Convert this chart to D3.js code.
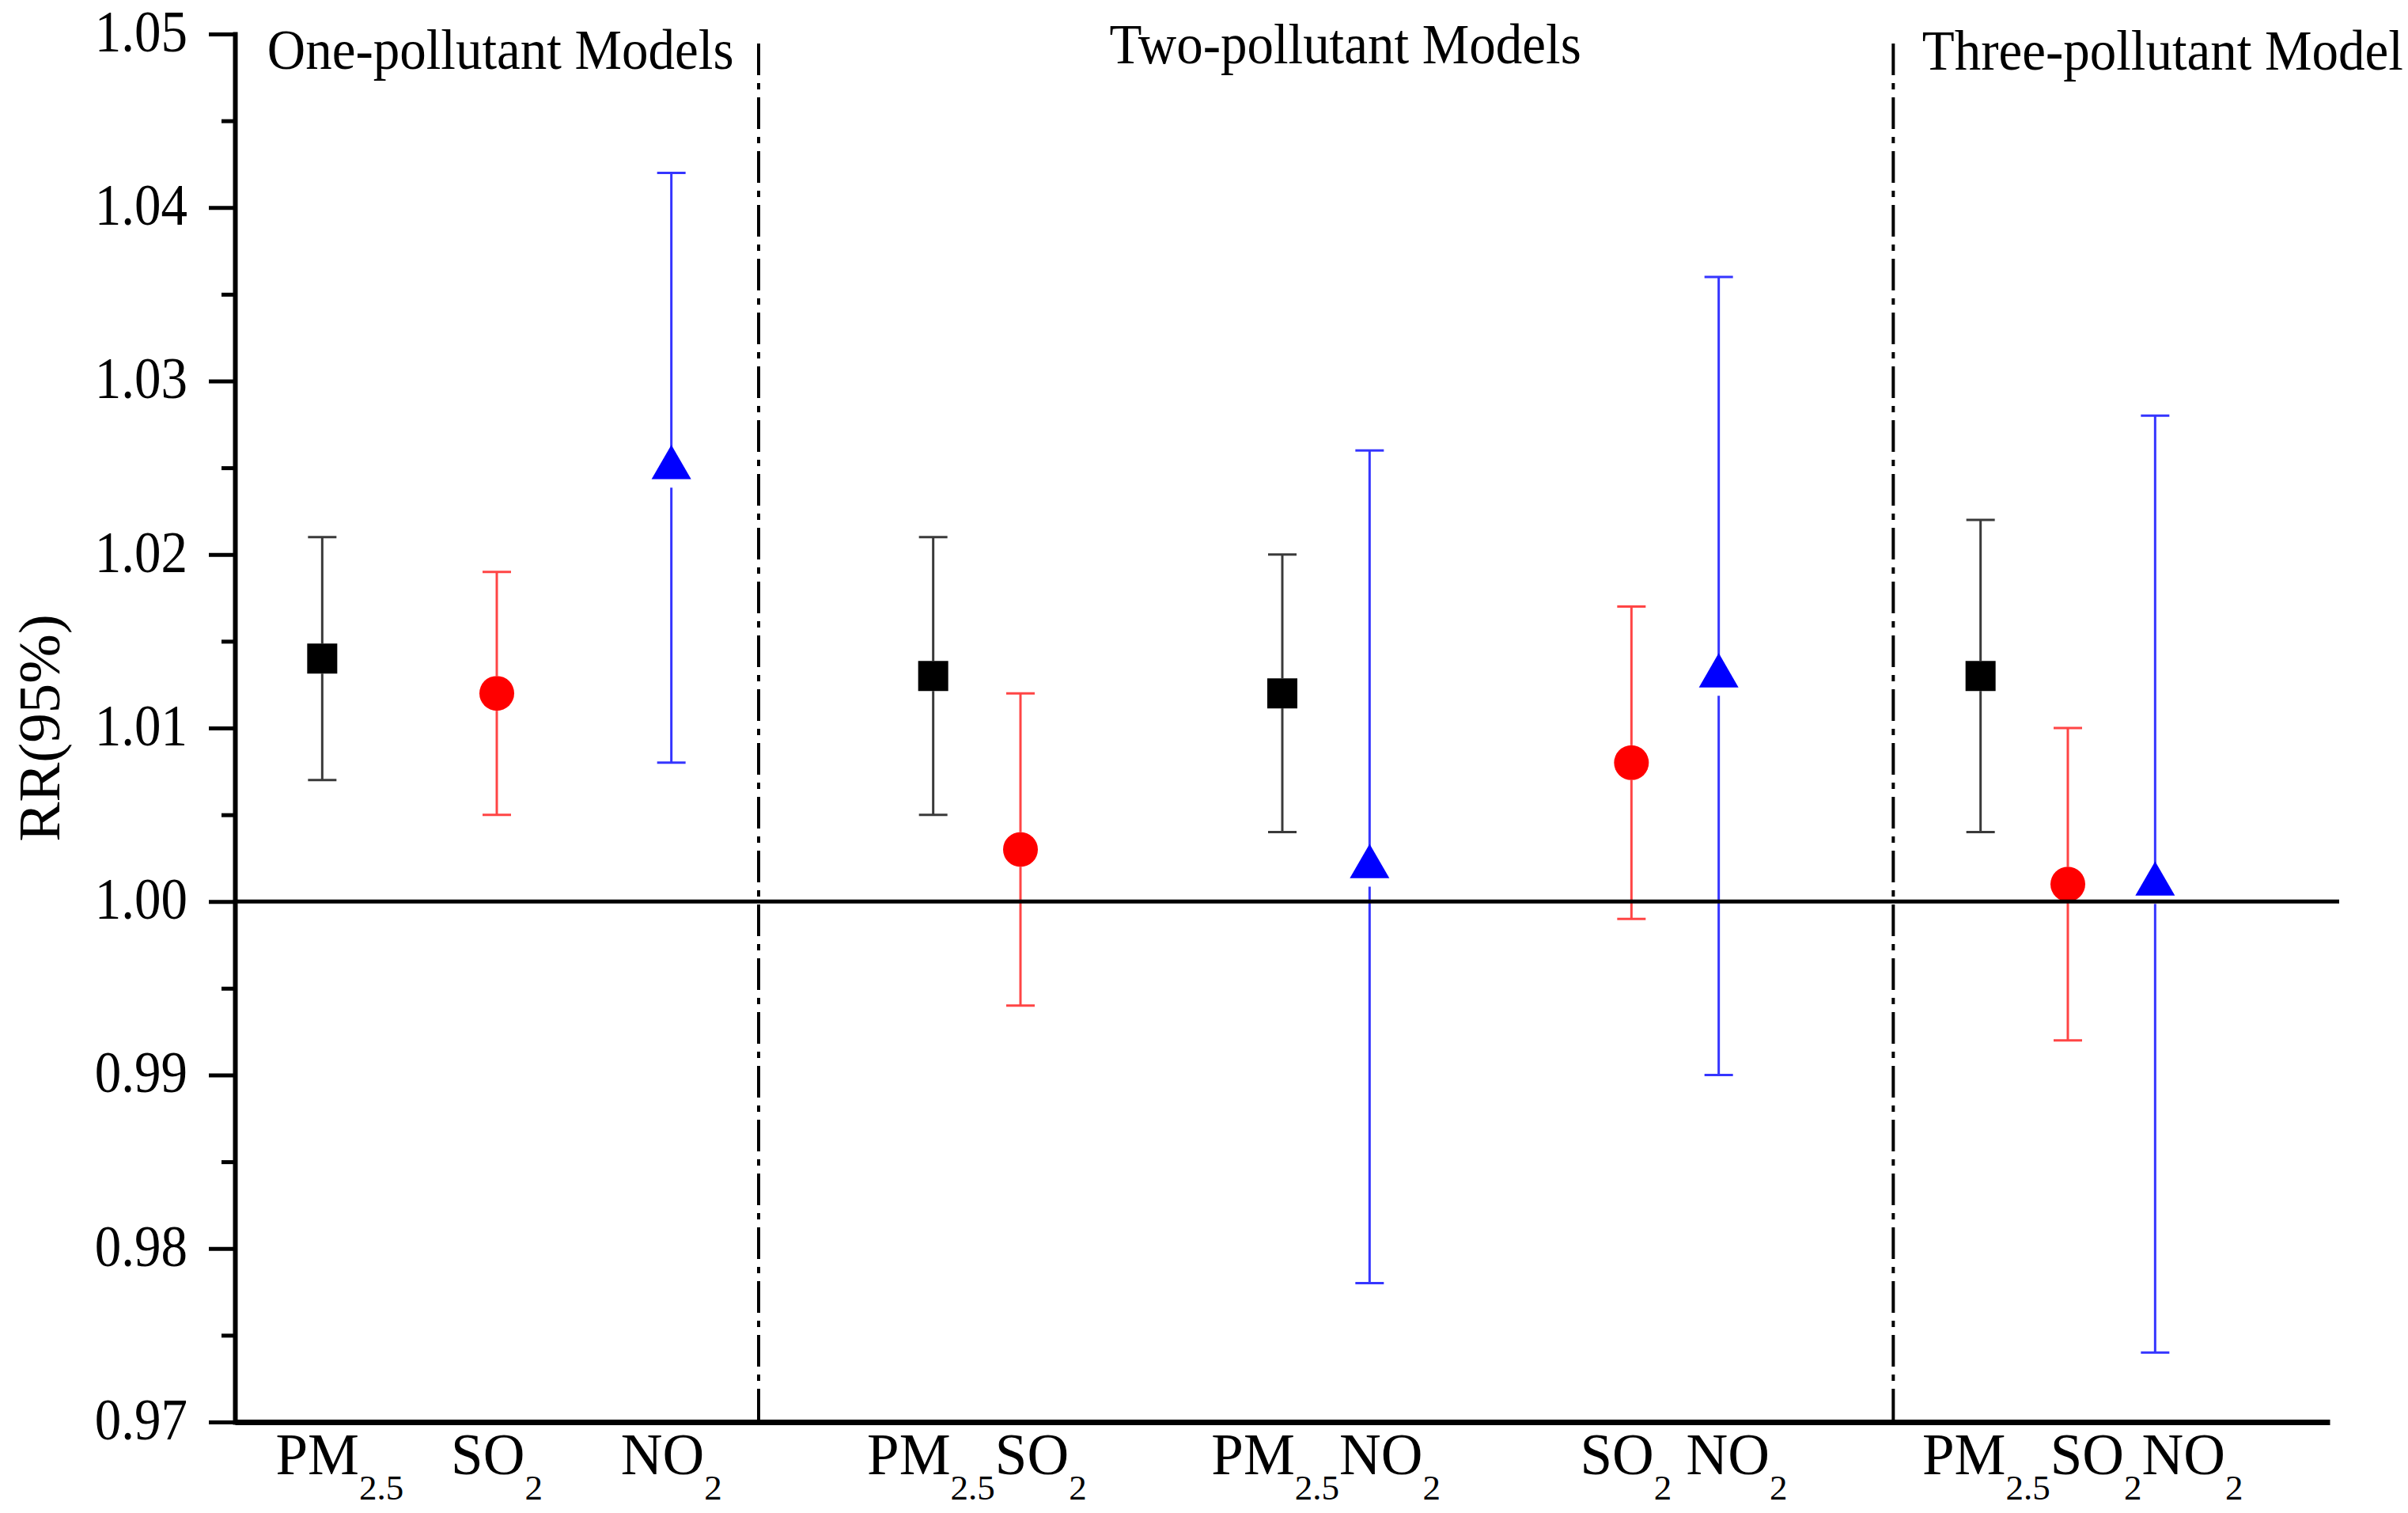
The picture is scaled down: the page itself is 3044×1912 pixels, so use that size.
<!DOCTYPE html>
<html>
<head>
<meta charset="utf-8">
<script src="https://cdn.jsdelivr.net/npm/d3@7"></script>
<style>
  body { margin: 0; background: #fff; }
  text { font-family: "Liberation Serif", "Times New Roman", serif; fill: #000; }
</style>
</head>
<body>
<svg id="chart" width="3044" height="1912"></svg>
<script>
// data (RR with 95% CI)
var xPos      = [1, 3, 5, 8, 9, 12, 13, 16, 17, 20, 21, 22];
var pollutant = ["PM2.5", "SO2", "NO2", "PM2.5", "SO2", "PM2.5", "NO2", "SO2", "NO2", "PM2.5", "SO2", "NO2"];
var rr        = [1.014, 1.012, 1.025, 1.013, 1.003, 1.012, 1.002, 1.008, 1.013, 1.013, 1.001, 1.001];
var lower     = [1.007, 1.005, 1.008, 1.005, 0.994, 1.004, 0.978, 0.999, 0.990, 1.004, 0.992, 0.974];
var upper     = [1.021, 1.019, 1.042, 1.021, 1.012, 1.020, 1.026, 1.017, 1.036, 1.022, 1.010, 1.028];

// category labels: [main text, subscript] pieces
var tickLabels = [
  [["PM", "2.5"]],
  [["SO", "2"]],
  [["NO", "2"]],
  [["PM", "2.5"], ["SO", "2"]],
  [["PM", "2.5"], ["NO", "2"]],
  [["SO", "2"], [" NO", "2"]],
  [["PM", "2.5"], ["SO", "2"], ["NO", "2"]]
];
var labelPos = [1.2, 3, 5, 8.5, 12.5, 16.6, 21.17];

var groupNames = ["One-pollutant Models", "Two-pollutant Models", "Three-pollutant Model"];
var groupX     = [0.37, 10.02, 19.33];
var dividers   = [6, 19];

var yTicks = d3.range(0.97, 1.0501, 0.01);
var yMinor = d3.range(0.975, 1.05, 0.01);

var serif = "'Liberation Serif', 'Times New Roman', serif";

// style per pollutant
var style = {
  "PM2.5": { shape: d3.symbolSquare,   size: 38 * 38, fill: "#000",    bar: "#3a3a3a", half: 19 },
  "SO2":   { shape: d3.symbolCircle,   size: Math.PI * 22 * 22, fill: "#ff0000", bar: "#ff4545", half: 22 },
  "NO2":   { shape: d3.symbolTriangle, size: 1083, fill: "#0000ff", bar: "#3535ff", half: 25 }
};

var svg = d3.select("#chart");
svg.append("rect").attr("width", 3044).attr("height", 1912).attr("fill", "#fff");

var x = d3.scaleLinear().domain([0, 24]).range([297, 2945]);
var y = d3.scaleLinear().domain([0.97, 1.05]).range([1797, 43]);

var points = xPos.map(function(d, i) {
  return { x: d, p: pollutant[i], v: rr[i], lo: lower[i], hi: upper[i] };
});

// dash-dot group dividers
svg.selectAll(".divider")
  .data(dividers)
  .enter().append("line")
  .attr("x1", function(d) { return x(d); })
  .attr("x2", function(d) { return x(d); })
  .attr("y1", y(1.05) + 12)
  .attr("y2", y(0.97))
  .attr("stroke", "#000")
  .attr("stroke-width", 4)
  .attr("stroke-dasharray", "40,10,8,10");

// error bars (gap around marker)
var bars = svg.append("g").selectAll("g")
  .data(points)
  .enter().append("g")
  .attr("stroke", function(d) { return style[d.p].bar; })
  .attr("stroke-width", 3);

bars.append("line")
  .attr("x1", function(d) { return x(d.x); })
  .attr("x2", function(d) { return x(d.x); })
  .attr("y1", function(d) { return y(d.hi); })
  .attr("y2", function(d) { return y(d.v) - style[d.p].half; });

bars.append("line")
  .attr("x1", function(d) { return x(d.x); })
  .attr("x2", function(d) { return x(d.x); })
  .attr("y1", function(d) { return y(d.v) + style[d.p].half; })
  .attr("y2", function(d) { return y(d.lo); });

bars.append("line")
  .attr("x1", function(d) { return x(d.x) - 18; })
  .attr("x2", function(d) { return x(d.x) + 18; })
  .attr("y1", function(d) { return y(d.hi); })
  .attr("y2", function(d) { return y(d.hi); });

bars.append("line")
  .attr("x1", function(d) { return x(d.x) - 18; })
  .attr("x2", function(d) { return x(d.x) + 18; })
  .attr("y1", function(d) { return y(d.lo); })
  .attr("y2", function(d) { return y(d.lo); });

// markers
svg.append("g").selectAll("path")
  .data(points)
  .enter().append("path")
  .attr("transform", function(d) { return "translate(" + x(d.x) + "," + y(d.v) + ")"; })
  .attr("d", function(d) { return d3.symbol().type(style[d.p].shape).size(style[d.p].size)(); })
  .attr("fill", function(d) { return style[d.p].fill; });

// reference line at RR = 1
svg.append("line")
  .attr("x1", x(0)).attr("x2", x(24) + 12)
  .attr("y1", y(1.0)).attr("y2", y(1.0))
  .attr("stroke", "#000")
  .attr("stroke-width", 5);

// y axis, major + minor ticks
var yAxis = svg.append("g")
  .attr("transform", "translate(" + x(0) + ",0)")
  .call(d3.axisLeft(y).tickValues(yTicks).tickFormat(d3.format(".2f"))
    .tickSize(33).tickSizeOuter(0).tickPadding(27));
yAxis.attr("font-family", serif);
yAxis.select(".domain").attr("stroke-width", 6).attr("stroke-linecap", "square");
yAxis.selectAll(".tick line").attr("stroke-width", 5);
yAxis.selectAll(".tick text")
  .attr("transform", "scale(1,1.1)")
  .attr("dy", "0.29em")
  .style("font-family", serif)
  .style("font-size", "67px");

var yMinorAxis = svg.append("g")
  .attr("transform", "translate(" + x(0) + ",0)")
  .call(d3.axisLeft(y).tickValues(yMinor).tickFormat("").tickSize(17).tickSizeOuter(0));
yMinorAxis.select(".domain").remove();
yMinorAxis.selectAll(".tick line").attr("stroke-width", 5);

// x axis (line only, no ticks)
var xAxis = svg.append("g")
  .attr("transform", "translate(0," + y(0.97) + ")")
  .call(d3.axisBottom(x).tickValues([]).tickSizeOuter(0));
xAxis.select(".domain").attr("stroke-width", 7);

// category labels with subscripts
var labels = svg.append("g").selectAll("text")
  .data(tickLabels)
  .enter().append("text")
  .attr("x", function(d, i) { return x(labelPos[i]); })
  .attr("y", 1863)
  .attr("text-anchor", "middle")
  .style("font-family", serif)
  .style("font-size", "73px");

labels.each(function(parts) {
  var t = d3.select(this);
  parts.forEach(function(p, j) {
    t.append("tspan").attr("dy", j === 0 ? 0 : -32).style("white-space", "pre").text(p[0]);
    t.append("tspan").attr("dy", 32).style("font-size", "45px").text(p[1]);
  });
});

// group titles
var titleY = [87, 80, 88];
svg.append("g").selectAll("text")
  .data(groupNames)
  .enter().append("text")
  .attr("transform", function(d, i) { return "translate(" + x(groupX[i]) + "," + titleY[i] + ") scale(1,1.06)"; })
  .style("font-family", serif)
  .style("font-size", "67px")
  .text(function(d) { return d; });

// y axis title
svg.append("text")
  .attr("transform", "translate(75," + y(1.01) + ") rotate(-90)")
  .attr("text-anchor", "middle")
  .style("font-family", serif)
  .style("font-size", "75px")
  .text("RR(95%)");
</script>
</body>
</html>
